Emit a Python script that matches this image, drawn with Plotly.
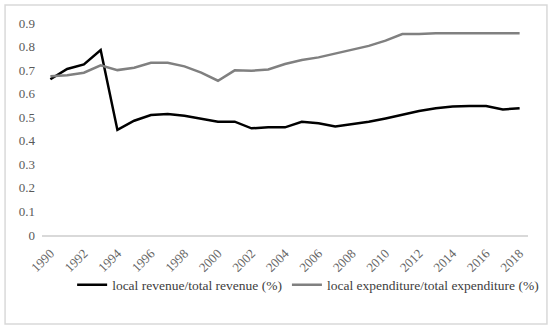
import plotly.graph_objects as go

years = list(range(1990, 2019))
revenue_share = [0.661, 0.705, 0.724, 0.785, 0.446, 0.485, 0.509, 0.514, 0.506, 0.492,
                 0.481, 0.481, 0.453, 0.457, 0.457, 0.481, 0.474, 0.461, 0.471, 0.481,
                 0.495, 0.512, 0.526, 0.538, 0.545, 0.548, 0.548, 0.533, 0.538]
expenditure_share = [0.674, 0.678, 0.689, 0.720, 0.700, 0.710, 0.731, 0.731, 0.716, 0.689,
                     0.655, 0.699, 0.697, 0.703, 0.726, 0.743, 0.754, 0.771, 0.788, 0.803,
                     0.825, 0.853, 0.853, 0.857, 0.856, 0.858, 0.857, 0.856, 0.856]
y_ticks = [0, 0.1, 0.2, 0.3, 0.4, 0.5, 0.6, 0.7, 0.8, 0.9]
y_labels = ["0", "0.1", "0.2", "0.3", "0.4", "0.5", "0.6", "0.7", "0.8", "0.9"]

font = "Liberation Serif"

fig = go.Figure()
fig.add_trace(go.Scatter(x=years, y=revenue_share, mode="lines",
                         name="local revenue/total revenue (%)",
                         line=dict(color="#000000", width=2.5)))
fig.add_trace(go.Scatter(x=years, y=expenditure_share, mode="lines",
                         name="local expenditure/total expenditure (%)",
                         line=dict(color="#808080", width=2.5)))

fig.update_layout(
    width=550, height=329,
    margin=dict(l=42, r=22, t=23, b=94, autoexpand=False),
    paper_bgcolor="white", plot_bgcolor="white",
    font=dict(family=font, size=13, color="#595959"),
    showlegend=True,
    legend=dict(orientation="h", x=0.062, xanchor="left", y=-0.236, yanchor="middle",
                font=dict(family=font, size=13.5, color="#404040"),
                bgcolor="rgba(0,0,0,0)", tracegroupgap=0, itemwidth=30),
    xaxis=dict(range=[1989.5, 2018.5], tickmode="array",
               tickvals=years[::2], ticktext=[str(y) for y in years[::2]],
               tickangle=-45, showgrid=False, zeroline=False, automargin=False,
               showline=True, linecolor="#d9d9d9", linewidth=1.5,
               ticks="", ticklabelstandoff=4,
               tickfont=dict(family=font, size=13, color="#666666")),
    yaxis=dict(range=[0, 0.9], tickmode="array", tickvals=y_ticks, ticktext=y_labels,
               showgrid=False, zeroline=False, showline=False, ticks="", automargin=False,
               ticklabelstandoff=6,
               tickfont=dict(family=font, size=13, color="#595959")),
    shapes=[dict(type="rect", xref="paper", yref="paper",
                 x0=-0.076, x1=1.039, y0=-0.42, y1=1.085,
                 line=dict(color="#d9d9d9", width=1.5), fillcolor="rgba(0,0,0,0)")],
)

fig.write_html("out.html", config={"displayModeBar": False},
               post_script="document.body.style.margin='0';document.body.style.overflow='hidden';")
